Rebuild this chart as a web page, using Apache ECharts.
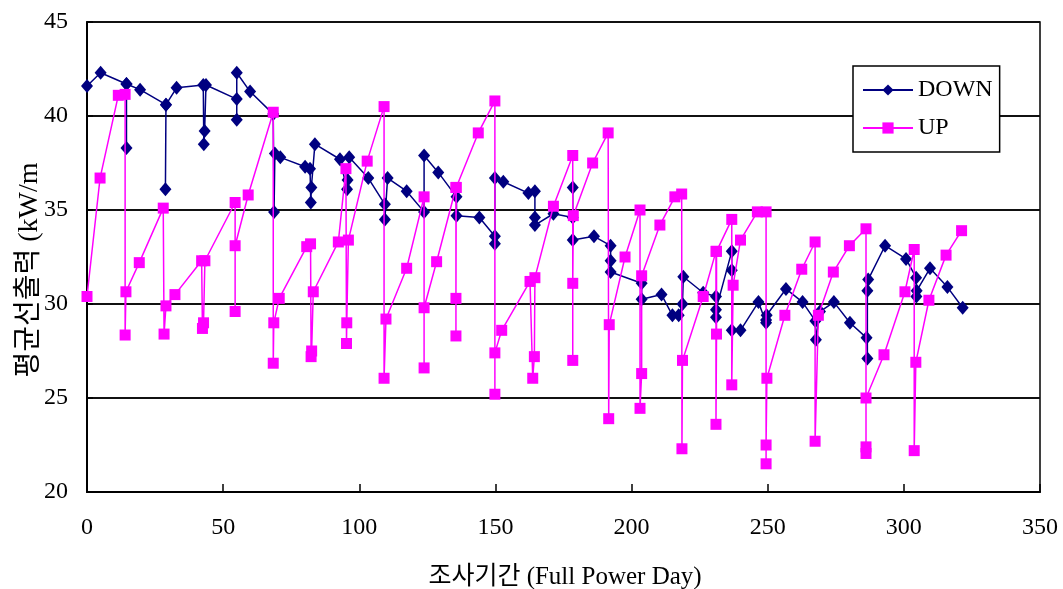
<!DOCTYPE html>
<html>
<head>
<meta charset="utf-8">
<script src="https://cdn.jsdelivr.net/npm/echarts@6/dist/echarts.min.js"></script>
<style>
html,body{margin:0;padding:0;background:#fff;}
#c{width:1063px;height:589px;}
</style>
</head>
<body>
<div id="c"></div>
<script>
// DOWN series: x (Full Power Day) and y (kW/m)
var downX = [0,5,14.5,14.5,14.5,19.5,29,28.8,29,32.9,42.7,42.9,43.2,43.7,55,55,55,59.9,68.4,68.7,69,71,80.1,81.9,82.2,82.4,83.7,92.9,95.5,95.7,96.3,103.3,109.4,109.4,110.4,117.4,123.8,123.8,129,135.7,135.7,144.1,149.8,149.8,149.8,152.9,162.1,164.5,164.5,164.5,171.3,178.4,178.4,178.4,186.2,192.3,192.3,192.3,203.7,203.7,211,215,217.3,218.7,219,226.3,231,231,231,236.8,236.8,236.8,240,246.6,249.4,249.4,249.6,256.7,262.8,267.5,267.7,269.2,274.3,280.2,286.3,286.6,286.6,286.9,293.1,300.8,304.5,304.6,304.7,309.6,316,321.6];
var downY = [41.6,42.3,41.7,38.3,41.7,41.4,40.6,36.1,40.6,41.5,41.65,38.5,39.2,41.65,40.9,39.8,42.3,41.3,40.1,34.9,38.0,37.8,37.3,37.2,35.4,36.2,38.5,37.7,36.1,36.6,37.8,36.7,35.3,34.5,36.7,36.0,34.9,37.9,37.0,35.7,34.7,34.6,33.6,33.2,36.7,36.5,35.9,36.0,34.6,34.2,34.8,34.6,36.2,33.4,33.6,33.1,32.3,31.7,31.1,30.25,30.5,29.4,29.4,30.0,31.45,30.6,30.4,29.3,29.7,32.8,31.8,28.6,28.6,30.1,29.0,29.15,29.4,30.8,30.1,29.1,28.1,29.6,30.1,29.0,28.2,27.1,30.7,31.3,33.1,32.4,31.4,30.4,30.7,31.9,30.9,29.8,28.8];
// UP series
var upX = [0,4.8,11.5,14,14,14.3,19.2,28,28.3,29,32.3,42.1,42.4,42.8,43.3,54.4,54.4,54.4,59.2,68.4,68.4,68.6,70.6,80.7,82.1,82.3,82.5,83.1,92.3,95.1,95.3,95.4,96,102.9,109.1,109.1,109.8,117.4,123.8,123.8,123.8,128.4,135.5,135.5,135.5,135.6,143.7,149.8,149.8,149.8,152.3,162.7,163.7,164.3,164.5,171.3,178.4,178.4,178.4,178.6,185.7,191.4,191.6,191.8,197.6,203.1,203.1,203.7,203.7,210.4,215.9,218.4,218.5,218.7,226.3,231,231,231.2,231.2,236.8,236.8,237.3,240,246.2,249.4,249.4,249.4,249.7,256.3,262.5,267.4,267.4,268.6,274.1,280,286.1,286.1,286.1,286.1,292.7,300.4,303.8,303.8,304.4,309.2,315.5,321.2];
var upY = [30.4,36.7,41.1,41.15,28.35,30.65,32.2,35.1,28.4,29.9,30.5,32.3,28.7,29.0,32.3,35.4,29.6,33.1,35.8,40.2,26.85,29.0,30.3,33.05,33.2,27.2,27.5,30.65,33.3,37.2,27.9,29.0,33.4,37.6,40.5,26.05,29.2,31.9,35.7,26.6,29.8,32.25,36.2,28.3,30.3,36.2,39.1,40.8,25.2,27.4,28.6,31.2,26.05,27.2,31.4,35.2,37.9,27.0,31.1,34.7,37.5,39.1,23.9,28.9,32.5,35.0,24.45,26.3,31.5,34.2,35.7,35.85,22.3,27.0,30.4,32.8,23.6,28.4,32.8,34.5,25.7,31.0,33.4,34.9,34.9,21.5,22.5,26.05,29.4,31.85,33.3,22.7,29.4,31.7,33.1,34.0,22.05,22.4,25.0,27.3,30.65,32.9,22.2,26.9,30.2,32.6,33.9];
var seriesNames = ['DOWN','UP'];
var xTitle = '조사기간 (Full Power Day)';
var yTitle = '평균선출력 (kW/m';

function pairs(xs, ys){ var o=[]; for(var i=0;i<xs.length;i++){o.push([xs[i],ys[i]]);} return o; }

var FONT = "'Liberation Serif', 'Noto Sans CJK KR', serif";
var chart = echarts.init(document.getElementById('c'), null, {renderer:'canvas'});
chart.setOption({
  animation:false,
  backgroundColor:'#fff',
  grid:{left:87, top:22, right:23, bottom:97, show:true, borderColor:'#000', borderWidth:1.5, backgroundColor:'#fff'},
  xAxis:{type:'value', min:0, max:350, interval:50,
    axisLine:{show:true, lineStyle:{color:'#000', width:2}},
    axisTick:{show:true, inside:true, length:8, lineStyle:{color:'#000', width:1.5}},
    axisLabel:{margin:24, color:'#000', fontSize:24, fontFamily:FONT},
    splitLine:{show:false}},
  yAxis:{type:'value', min:20, max:45, interval:5,
    axisLine:{show:true, lineStyle:{color:'#000', width:2}},
    axisTick:{show:true, inside:true, length:6, lineStyle:{color:'#000', width:1.5}},
    axisLabel:{margin:19, color:'#000', fontSize:24, fontFamily:FONT},
    splitLine:{show:true, lineStyle:{color:'#111', width:2}}},
  legend:{orient:'vertical', left:853, top:66, padding:[12,7,12,9], itemGap:14,
    itemWidth:50, itemHeight:14, backgroundColor:'#fff', borderColor:'#000', borderWidth:1.5, borderRadius:0,
    textStyle:{color:'#000', fontSize:24, fontFamily:FONT},
    data:seriesNames},
  graphic:[
    {type:'text', x:565, y:577, style:{text:xTitle, fill:'#000', font:'25px '+FONT, textAlign:'center', textVerticalAlign:'middle'}},
    {type:'text', x:30, y:270, rotation:Math.PI/2, style:{text:yTitle, fill:'#000', font:'28px '+FONT, textAlign:'center', textVerticalAlign:'middle'}}
  ],
  series:[
    {name:seriesNames[0], type:'line', data:pairs(downX, downY), symbol:'diamond', symbolSize:[12,14],
      itemStyle:{color:'#000080'}, lineStyle:{color:'#000080', width:1.5}, z:2},
    {name:seriesNames[1], type:'line', data:pairs(upX, upY), symbol:'rect', symbolSize:11,
      itemStyle:{color:'#FF00FF'}, lineStyle:{color:'#FF00FF', width:1.5}, z:3}
  ]
});
</script>
</body>
</html>
